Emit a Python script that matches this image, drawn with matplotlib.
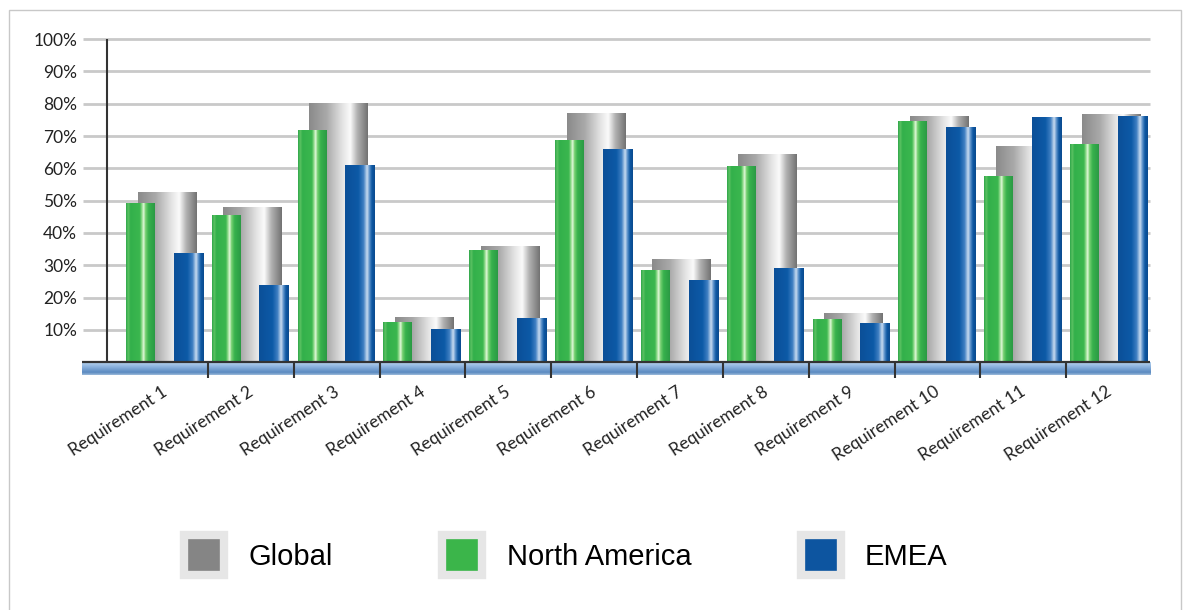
import numpy as np
import matplotlib
matplotlib.use('Agg')
import matplotlib.pyplot as plt
from matplotlib.colors import LinearSegmentedColormap
from matplotlib.lines import Line2D
from matplotlib.patches import Rectangle

categories = ['Requirement 1', 'Requirement 2', 'Requirement 3', 'Requirement 4',
              'Requirement 5', 'Requirement 6', 'Requirement 7', 'Requirement 8',
              'Requirement 9', 'Requirement 10', 'Requirement 11', 'Requirement 12']
global_vals = [52.4, 47.9, 80.0, 13.8, 35.8, 77.0, 31.8, 64.1, 15.1, 76.0, 66.7, 76.5]
north_america = [48.9, 45.3, 71.6, 12.3, 34.4, 68.4, 28.3, 60.4, 13.3, 74.3, 57.4, 67.2]
emea = [33.7, 23.7, 60.7, 10.2, 13.6, 65.7, 25.2, 28.8, 11.8, 72.4, 75.7, 75.8]
y_ticks = [10, 20, 30, 40, 50, 60, 70, 80, 90, 100]
y_labels = ['10%', '20%', '30%', '40%', '50%', '60%', '70%', '80%', '90%', '100%']

# cylinder-like shading for the bars
gray_cmap = LinearSegmentedColormap.from_list('g', [
    (0.0, '#8a8a8a'), (0.3, '#a9a9a9'), (0.58, '#e6e6e6'), (0.7, '#fbfbfb'),
    (0.82, '#b2b2b2'), (1.0, '#727272')])
green_cmap = LinearSegmentedColormap.from_list('n', [
    (0.0, '#2ea649'), (0.08, '#5cc262'), (0.15, '#33b04b'), (0.48, '#3bb74f'),
    (0.56, '#9ee096'), (0.61, '#e6f9e0'), (0.67, '#7ad274'), (0.78, '#38b24d'),
    (1.0, '#2a9a44')])
blue_cmap = LinearSegmentedColormap.from_list('b', [
    (0.0, '#0b4f98'), (0.45, '#0d5aa7'), (0.62, '#3f7fc2'), (0.74, '#c9dcf0'),
    (0.82, '#5a90c9'), (0.9, '#0e58a3'), (1.0, '#0a4a8e')])
floor_cmap = LinearSegmentedColormap.from_list('f', [
    (0.0, '#b8d3ef'), (0.35, '#8db3de'), (0.8, '#5a89c0'), (1.0, '#9dbbdb')])

fig = plt.figure(figsize=(11.84, 6.10), dpi=100)
ax = fig.add_axes([80 / 1184, 228.3 / 610, 1072 / 1184, 345.9 / 610])

x = np.arange(len(categories))
x_left, x_right = -0.967, 11.48

# grid and axis lines
ax.hlines(y_ticks, -0.956, x_right, color='#c9c9c9', lw=2, zorder=1)
ax.vlines(-0.676, 0, 100, color='#333333', lw=1.5, zorder=2)


def shade(bars, cmap, z):
    grad = np.linspace(0, 1, 256).reshape(1, -1)
    for b in bars:
        x0, w, h = b.get_x(), b.get_width(), b.get_height()
        ax.imshow(grad, cmap=cmap, extent=(x0, x0 + w, 0, h), aspect='auto',
                  zorder=z, interpolation='bilinear')


g = ax.bar(x + 0.02, global_vals, 0.68, facecolor='none', edgecolor='none')
n = ax.bar(x - 0.29, north_america, 0.33, facecolor='none', edgecolor='none')
e = ax.bar(x + 0.27, emea, 0.34, facecolor='none', edgecolor='none')
shade(g, gray_cmap, 3)
shade(n, green_cmap, 4)
shade(e, blue_cmap, 4)

# blue floor band with dividers
fgrad = np.linspace(0, 1, 64).reshape(-1, 1)
ax.imshow(fgrad, cmap=floor_cmap, extent=(x_left, x_right, -4.0, 0), aspect='auto',
          zorder=2, interpolation='bilinear')
ax.hlines(0, x_left, x_right, color='#333333', lw=1.6, zorder=5)
ax.vlines(x[:-1] + 0.5, -4.9, 0, color='#333333', lw=1.5, zorder=5)

ax.set_xlim(-0.99, 11.5)
ax.set_ylim(-6, 101)
ax.set_yticks(y_ticks)
ax.set_yticklabels(y_labels, fontsize=12.5, family='Lato', color='#222222')
ax.tick_params(axis='y', length=0, pad=2)
ax.set_xticks([])
for s in ax.spines.values():
    s.set_visible(False)

for xi, lab in zip(x, categories):
    ax.text(xi - 0.04, -6.6, lab, rotation=33, rotation_mode='anchor',
            ha='right', va='top', fontsize=12.5, family='Lato', color='#222222')

# legend
handles = [
    Line2D([], [], ls='none', marker='s', markersize=29, markerfacecolor='#858585',
           markeredgecolor='#e6e6e6', markeredgewidth=6),
    Line2D([], [], ls='none', marker='s', markersize=29, markerfacecolor='#3bb54a',
           markeredgecolor='#e6e6e6', markeredgewidth=6),
    Line2D([], [], ls='none', marker='s', markersize=29, markerfacecolor='#0d55a0',
           markeredgecolor='#e6e6e6', markeredgewidth=6),
]
fig.legend(handles, ['Global', 'North America', 'EMEA'], loc='center',
           bbox_to_anchor=(564 / 1184, 53 / 610), ncol=3, frameon=False,
           prop={'family': 'Liberation Sans', 'size': 21},
           handlelength=1.65, handletextpad=0.7, columnspacing=3.6)

fig.add_artist(Rectangle((9 / 1184, -0.02), 1172 / 1184, 1.0 - 10 / 610 + 0.02,
                         transform=fig.transFigure, fill=False,
                         edgecolor='#c8c8c8', lw=1))

fig.savefig('out.png', dpi=100)
